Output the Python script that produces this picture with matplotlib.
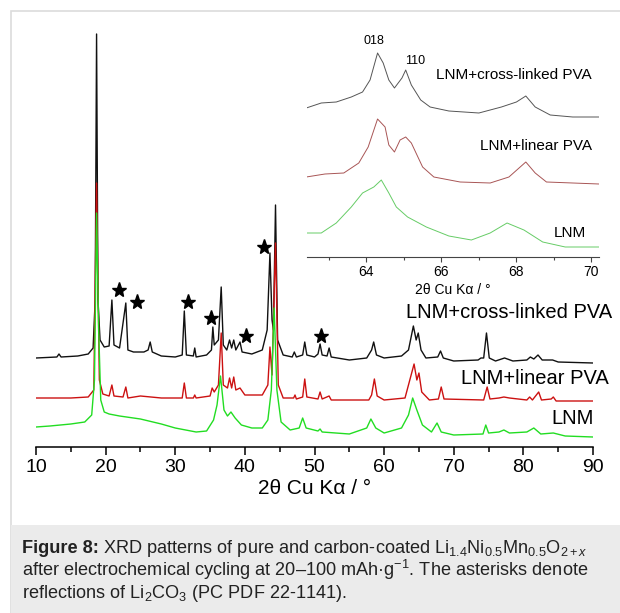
import numpy as np
import matplotlib
matplotlib.use("Agg")
import matplotlib.pyplot as plt
from matplotlib.patches import Rectangle

plt.rcParams['font.family'] = ['Liberation Sans', 'DejaVu Sans']
plt.rcParams['mathtext.fontset'] = 'custom'
plt.rcParams['mathtext.rm'] = 'Liberation Sans'
plt.rcParams['mathtext.it'] = 'Liberation Sans:italic'
plt.rcParams['mathtext.bf'] = 'Liberation Sans:bold'

#%% main patterns (2theta, intensity incl. vertical offset)
tt_cross = [10.0, 13.0, 13.3, 13.6, 16.0, 17.5, 18.2, 18.5, 18.7, 18.9, 19.2, 19.8, 20.5, 20.9, 21.2,
            22.0, 22.9, 23.2, 24.0, 25.5, 26.1, 26.4, 26.7, 28.0, 30.0, 31.0, 31.3, 31.6, 32.6, 32.8,
            33.0, 34.5, 35.2, 35.4, 35.6, 36.2, 36.6, 36.9, 37.4, 37.8, 38.1, 38.4, 38.7, 39.3, 39.6,
            41.0, 42.5, 43.2, 43.6, 43.9, 44.1, 44.4, 44.7, 45.5, 46.8, 47.1, 47.4, 48.3, 48.6, 48.9,
            50.0, 50.5, 50.8, 51.1, 51.8, 52.1, 52.4, 55.0, 57.5, 58.2, 58.5, 58.9, 60.0, 62.5, 63.5,
            64.2, 64.6, 64.9, 65.3, 66.0, 67.7, 68.1, 68.5, 70.0, 73.5, 73.9, 74.3, 74.7, 75.1, 76.0,
            77.3, 78.5, 80.5, 81.0, 81.5, 82.1, 82.7, 84.2, 85.0, 90.0]
I_cross = [89, 90, 93, 90, 91, 93, 99, 147, 413, 147, 107, 100, 101, 147, 102,
           99, 144, 97, 95, 95, 97, 105, 95, 91, 90, 92, 136, 92, 91, 99,
           90, 92, 97, 120, 102, 107, 160, 102, 97, 107, 99, 107, 97, 105, 95,
           93, 97, 117, 194, 127, 117, 242, 107, 92, 90, 95, 90, 92, 105, 92,
           90, 93, 103, 92, 91, 99, 90, 87, 89, 97, 105, 92, 89, 91, 97,
           121, 107, 114, 97, 89, 90, 96, 89, 86, 87, 89, 89, 114, 89, 86,
           89, 86, 87, 90, 88, 92, 87, 87, 85, 84]

tt_linear = [10.0, 15.0, 17.5, 18.3, 18.7, 19.1, 19.6, 20.5, 20.9, 21.2, 22.5, 22.9, 23.2, 25.0, 28.0,
             31.0, 31.3, 31.6, 32.6, 32.8, 33.0, 35.0, 35.3, 35.6, 36.2, 36.6, 36.9, 37.5, 37.8, 38.1,
             38.4, 38.7, 39.3, 40.0, 42.5, 43.3, 43.6, 43.9, 44.4, 44.8, 45.5, 47.0, 47.2, 47.4, 48.3,
             48.6, 48.9, 50.5, 50.8, 51.1, 52.1, 52.4, 57.8, 58.2, 58.6, 59.0, 60.0, 63.0, 64.3, 64.7,
             65.0, 65.4, 66.5, 67.8, 68.2, 68.6, 74.3, 74.8, 75.2, 76.5, 77.2, 78.0, 80.5, 80.9, 81.3,
             82.2, 82.6, 84.0, 84.3, 84.7, 90.0]
I_linear = [49, 49, 50, 57, 264, 67, 53, 51, 62, 51, 50, 60, 49, 51, 49,
            49, 64, 49, 49, 52, 49, 51, 59, 55, 62, 114, 62, 59, 69, 59,
            70, 57, 59, 52, 52, 62, 100, 72, 204, 62, 49, 49, 52, 48, 50,
            68, 50, 48, 55, 48, 51, 47, 47, 52, 68, 51, 47, 49, 83, 67,
            74, 55, 47, 48, 60, 48, 47, 60, 48, 49, 50, 49, 47, 50, 47,
            55, 47, 48, 50, 46, 46]

tt_lnm = [10.0, 12.0, 15.0, 17.0, 18.0, 18.4, 18.7, 19.0, 19.3, 19.8, 20.5, 22.0, 25.0, 28.0, 30.0,
          33.0, 34.5, 35.5, 36.0, 36.5, 37.0, 37.5, 38.0, 38.6, 39.5, 41.0, 42.5, 43.3, 43.8, 44.2,
          44.6, 45.2, 46.5, 47.8, 48.3, 48.8, 50.5, 50.8, 51.1, 55.0, 57.5, 58.1, 58.8, 60.0, 62.5,
          63.5, 64.1, 64.7, 65.5, 66.8, 67.6, 68.2, 70.0, 74.2, 74.6, 75.0, 76.5, 77.2, 78.0, 80.5,
          81.5, 82.5, 84.3, 86.0, 90.0]
I_lnm = [20, 21, 23, 25, 32, 67, 234, 117, 47, 35, 33, 31, 28, 23, 19,
         15, 16, 27, 42, 71, 37, 31, 35, 29, 22, 19, 19, 27, 57, 139,
         57, 25, 17, 19, 29, 19, 16, 18, 15, 13, 19, 28, 19, 14, 19,
         32, 49, 37, 22, 15, 24, 15, 12, 13, 22, 14, 15, 17, 14, 15,
         19, 13, 14, 11, 10]

# Li2CO3 reflections (asterisks)
star_tt = [21.9, 24.5, 31.9, 35.1, 40.1, 42.8, 50.9]
star_I = [157, 145, 145, 129, 111, 200, 111]

#%% inset patterns
tt_in_cross = [62.4, 62.8, 63.2, 63.6, 63.9, 64.1, 64.3, 64.45, 64.6, 64.75, 64.95, 65.05, 65.2, 65.45,
               65.7, 66.2, 67.0, 67.6, 68.0, 68.25, 68.5, 68.9, 69.5, 70.2]
I_in_cross = [149, 154, 155, 160, 165, 177, 204, 194, 177, 169, 179, 187, 172, 157,
              150, 146, 144, 150, 155, 161, 150, 142, 140, 140]
tt_in_linear = [62.4, 62.9, 63.4, 63.8, 64.05, 64.3, 64.5, 64.6, 64.75, 64.9, 65.05, 65.2, 65.5, 65.8,
                66.5, 67.3, 67.8, 68.1, 68.25, 68.5, 68.8, 69.5, 70.2]
I_in_linear = [80, 83, 84, 94, 110, 138, 130, 112, 105, 117, 120, 114, 90, 80,
               75, 74, 80, 90, 95, 84, 75, 74, 73]
tt_in_lnm = [62.4, 62.8, 63.2, 63.6, 63.9, 64.2, 64.4, 64.6, 64.8, 65.1, 65.6, 66.2, 66.8, 67.3,
             67.75, 68.2, 68.7, 69.3, 70.2]
I_in_lnm = [24, 24, 34, 50, 64, 70, 77, 64, 50, 40, 30, 21, 17, 24,
            34, 27, 15, 10, 10]

W, H = 620, 613
def fx(px):
    return px / W
def fy(py):
    return 1 - py / H

fig = plt.figure(figsize=(W / 100, H / 100), dpi=100)
fig.patch.set_facecolor('white')

# panel frame and caption box
fig.add_artist(Rectangle((fx(10.5), 0), 1, fy(10.5), transform=fig.transFigure,
                         facecolor='white', edgecolor='#dcdcdc', lw=1.2, zorder=0))
fig.add_artist(Rectangle((fx(10.5), 0), 1, fy(525), transform=fig.transFigure,
                         facecolor='#ebebeb', edgecolor='none', zorder=0))

#%% main axes
ax = fig.add_axes([fx(36), fy(447), fx(593) - fx(36), fy(30) - fy(447)])
ax.patch.set_alpha(0)
ax.plot(tt_cross, I_cross, color='#111111', lw=1.0)
ax.plot(tt_linear, I_linear, color='#cc1111', lw=1.0)
ax.plot(tt_lnm, I_lnm, color='#22dd22', lw=1.0)
ax.plot(star_tt, star_I, ls='none', marker='*', ms=11, color='black')
ax.set_xlim(10, 90)
ax.set_ylim(0, 417)
for s in ['left', 'right', 'top']:
    ax.spines[s].set_visible(False)
ax.spines['bottom'].set_linewidth(1.1)
ax.set_yticks([])
ax.set_xticks(np.arange(10, 91, 10))
ax.set_xticks(np.arange(15, 90, 10), minor=True)
ax.tick_params(axis='x', which='major', length=6, width=1.1, labelsize=14, pad=3)
ax.tick_params(axis='x', which='minor', length=3.5, width=1.1)
ax.set_xlabel('2θ Cu Kα / °', fontsize=15, labelpad=2)

fig.text(fx(612), fy(313), 'LNM+cross-linked PVA', ha='right', va='center', fontsize=14.5)
fig.text(fx(609), fy(379), 'LNM+linear PVA', ha='right', va='center', fontsize=14.5)
fig.text(fx(594), fy(418), 'LNM', ha='right', va='center', fontsize=14.5)

#%% inset
ins = fig.add_axes([fx(307), fy(257), fx(599) - fx(307), fy(30) - fy(257)])
ins.patch.set_alpha(0)
ins.plot(tt_in_cross, I_in_cross, color='#555555', lw=0.7)
ins.plot(tt_in_linear, I_in_linear, color='#a85555', lw=0.7)
ins.plot(tt_in_lnm, I_in_lnm, color='#66cc66', lw=0.7)
ins.set_xlim(62.42, 70.2)
ins.set_ylim(0, 227)
for s in ['left', 'right', 'top']:
    ins.spines[s].set_visible(False)
ins.spines['bottom'].set_color('#444444')
ins.spines['bottom'].set_linewidth(0.8)
ins.set_yticks([])
ins.set_xticks([64, 66, 68, 70])
ins.set_xticks([63, 65, 67, 69], minor=True)
ins.tick_params(axis='x', which='major', length=3.5, width=0.8, color='#444444', labelsize=10, pad=2)
ins.tick_params(axis='x', which='minor', length=2.5, width=0.8, color='#444444')
ins.set_xlabel('2θ Cu Kα / °', fontsize=10, labelpad=3)
ins.text(64.2, 216, '018', ha='center', va='center', fontsize=9)
ins.text(65.3, 196, '110', ha='center', va='center', fontsize=9)
fig.text(fx(592), fy(75), 'LNM+cross-linked PVA', ha='right', va='center', fontsize=11)
fig.text(fx(592), fy(146), 'LNM+linear PVA', ha='right', va='center', fontsize=11)
fig.text(fx(586), fy(233), 'LNM', ha='right', va='center', fontsize=11)

#%% caption
cap_fs = 13.1
renderer = fig.canvas.get_renderer()
bold = fig.text(fx(22), fy(553), 'Figure 8:', ha='left', va='baseline', fontsize=cap_fs,
                fontweight='bold', color='#222222')
bb = bold.get_window_extent(renderer=renderer)
fig.text((bb.x1 + 4) / W, fy(553),
         r'XRD patterns of pure and carbon-coated Li$_{1.4}$Ni$_{0.5}$Mn$_{0.5}$O$_{2+x}$',
         ha='left', va='baseline', fontsize=cap_fs, color='#222222')
fig.text(fx(22), fy(575.5), r'after electrochemical cycling at 20–100 mAh·g$^{-1}$. The asterisks denote',
         ha='left', va='baseline', fontsize=cap_fs, color='#222222')
fig.text(fx(22), fy(598), r'reflections of Li$_{2}$CO$_{3}$ (PC PDF 22-1141).',
         ha='left', va='baseline', fontsize=cap_fs, color='#222222')

fig.savefig('out.png', dpi=100)
